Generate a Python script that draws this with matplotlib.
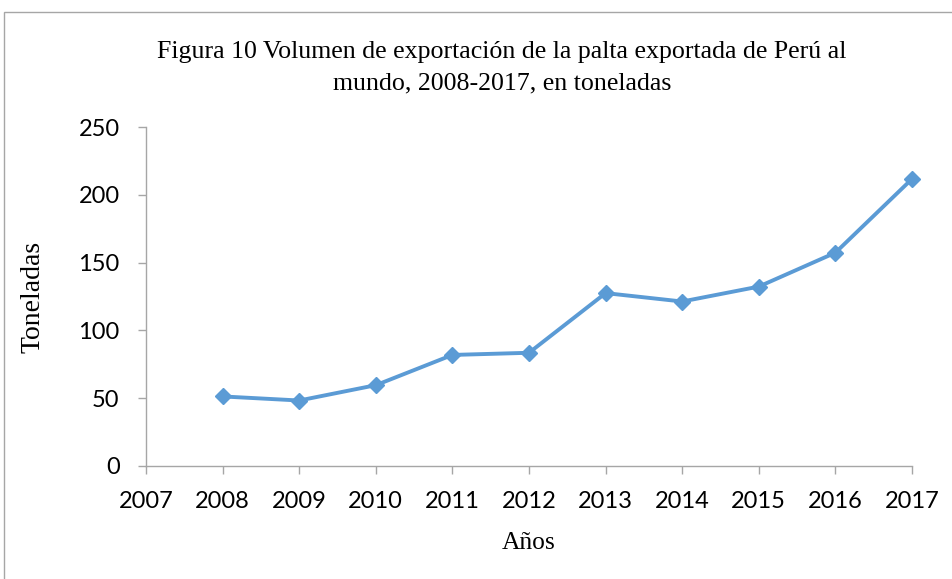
import matplotlib
matplotlib.use("Agg")
import matplotlib.pyplot as plt
from matplotlib.patches import Rectangle

years = [2008, 2009, 2010, 2011, 2012, 2013, 2014, 2015, 2016, 2017]
toneladas = [51.3, 48.3, 59.6, 81.9, 83.5, 127.5, 121.3, 132.3, 157.3, 211.7]
xticks = list(range(2007, 2018))
yticks = [0, 50, 100, 150, 200, 250]

fig = plt.figure(figsize=(9.53, 5.79), dpi=100)
fig.patches.append(Rectangle((4/953, -0.01), 1.0, 1 - 12/579 + 0.01, transform=fig.transFigure,
                             fill=False, edgecolor="#a6a6a6", linewidth=1.0))
ax = fig.add_axes([146/953, 1 - 466/579, (912 - 146)/953, (466 - 127)/579])
ax.plot(years, toneladas, color="#5B9BD5", linewidth=2.8, marker="D", markersize=8.5,
        markerfacecolor="#5B9BD5", markeredgecolor="#5B9BD5", clip_on=False)
ax.set_xlim(2007, 2017)
ax.set_ylim(0, 250)
ax.set_xticks(xticks)
ax.set_yticks(yticks)
for s in ["top", "right"]:
    ax.spines[s].set_visible(False)
for s in ["left", "bottom"]:
    ax.spines[s].set_color("#a6a6a6")
    ax.spines[s].set_linewidth(1.0)
ax.tick_params(axis="both", colors="#a6a6a6", length=6, width=1.0, direction="out")
ax.tick_params(axis="both", labelcolor="black", labelsize=17)
for lab in ax.get_xticklabels() + ax.get_yticklabels():
    lab.set_family("Lato")
ax.tick_params(axis="x", pad=12)
ax.tick_params(axis="y", pad=13)

serif = "Liberation Serif"
fig.text(502/953, 1 - 52/579, "Figura 10 Volumen de exportación de la palta exportada de Perú al",
         ha="center", va="center", fontsize=18.6, family=serif)
fig.text(502/953, 1 - 83/579, "mundo, 2008-2017, en toneladas",
         ha="center", va="center", fontsize=18.6, family=serif)
fig.text(33/953, 1 - 297/579, "Toneladas", rotation=90, ha="center", va="center",
         fontsize=20, family=serif)
fig.text(529/953, 1 - 543/579, "Años", ha="center", va="center", fontsize=18.4, family=serif)

fig.savefig("out.png", dpi=100, facecolor="white")
